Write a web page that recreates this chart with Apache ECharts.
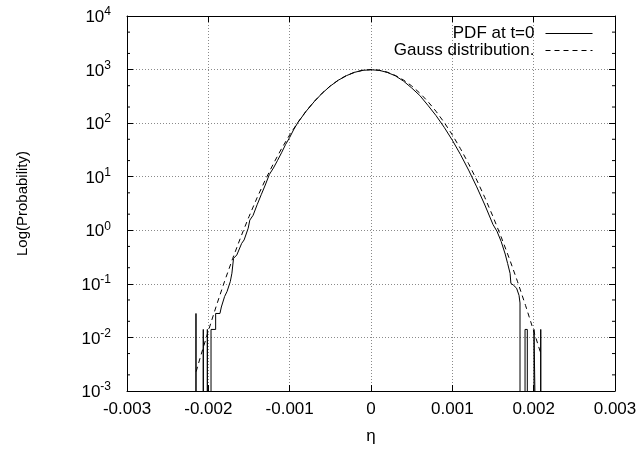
<!DOCTYPE html>
<html>
<head>
<meta charset="utf-8">
<script src="https://cdn.jsdelivr.net/npm/echarts@6/dist/echarts.min.js"></script>
<style>
  html, body { margin: 0; padding: 0; background: #fff; }
  #chart { width: 642px; height: 451px; }
</style>
</head>
<body>
<div id="chart"></div>
<script>
// ---- data ----
const xTickValues = [-0.003, -0.002, -0.001, 0, 0.001, 0.002, 0.003];
const xTickLabels = ['-0.003', '-0.002', '-0.001', '0', '0.001', '0.002', '0.003'];
const yMinorTickValues = [0.002, 0.005, 0.02, 0.05, 0.2, 0.5, 2, 5, 20, 50, 200, 500, 2000, 5000];
const EMPTY_BIN = 1e-4; // empty histogram bin: below the axis floor

const seriesNames = ['PDF at t=0', 'Gauss distribution.'];

const pdfEta = [
  -0.002152, -0.002152, -0.002152,
  -0.002062, -0.002062, -0.002062,
  -0.002012, -0.002012, -0.002012,
  -0.001967, -0.001967, -0.00191, -0.00191, -0.001857, -0.00184, -0.0018, -0.00177,
  -0.00173, -0.00171, -0.00169, -0.00165, -0.00163, -0.00159, -0.00156, -0.00151, -0.00149,
  -0.00145, -0.0014, -0.00135, -0.0013, -0.00125, -0.0012, -0.00115, -0.0011, -0.00105,
  -0.001, -0.00095, -0.0009, -0.0008, -0.0007, -0.0006, -0.0005, -0.0004, -0.0003,
  -0.0002, -0.0001, 0,
  0.0001, 0.0002, 0.0003, 0.0004, 0.0005, 0.0006, 0.0007, 0.0008, 0.0009, 0.001,
  0.0011, 0.0012, 0.0013, 0.0014, 0.0015, 0.00155, 0.0016, 0.00165, 0.00168, 0.00171,
  0.00172, 0.00175, 0.00179, 0.00182, 0.001832, 0.001832,
  0.001894, 0.001894, 0.001922, 0.001922,
  0.002004, 0.002004, 0.002025, 0.002025,
  0.002087, 0.002087, 0.002087
];
const pdfProb = [
  EMPTY_BIN, 0.028, EMPTY_BIN,
  EMPTY_BIN, 0.0141, EMPTY_BIN,
  EMPTY_BIN, 0.0141, EMPTY_BIN,
  EMPTY_BIN, 0.0141, 0.0141, 0.028, 0.028, 0.037, 0.058, 0.072,
  0.11, 0.158, 0.30, 0.346, 0.37, 0.57, 0.66, 1.09, 1.55,
  1.9, 3.0, 4.6, 7.0, 11, 14.5, 20, 28, 40,
  54, 76, 102, 165, 250, 362, 493, 635, 772,
  890, 968, 990,
  968, 885, 763, 609, 454, 328, 215, 138, 83.6, 48,
  26, 13.3, 6.46, 2.96, 1.28, 0.95, 0.62, 0.36, 0.24, 0.157,
  0.102, 0.095, 0.083, 0.061, 0.044, EMPTY_BIN,
  EMPTY_BIN, 0.0141, 0.0141, EMPTY_BIN,
  EMPTY_BIN, 0.0141, 0.0141, EMPTY_BIN,
  EMPTY_BIN, 0.0141, EMPTY_BIN
];

const gaussEta = [
  -0.00215, -0.0021, -0.002, -0.0019, -0.0018, -0.0017, -0.0016, -0.0015, -0.0014,
  -0.0013, -0.0012, -0.0011, -0.001, -0.0009, -0.0008, -0.0007, -0.0006, -0.0005,
  -0.0004, -0.0003, -0.0002, -0.0001, 0,
  0.0001, 0.0002, 0.0003, 0.0004, 0.0005, 0.0006, 0.0007, 0.0008, 0.0009, 0.001,
  0.0011, 0.0012, 0.0013, 0.0014, 0.0015, 0.0016, 0.0017, 0.0018, 0.0019, 0.002, 0.00209
];
const gaussProb = [
  0.0023, 0.0042, 0.0132, 0.0396, 0.112, 0.299, 0.755, 1.80, 4.07,
  8.69, 17.5, 33.4, 60.3, 103, 166, 253, 364, 496,
  638, 777, 894, 972, 1000,
  972, 894, 777, 638, 496, 364, 253, 166, 103, 60.3,
  33.4, 17.5, 8.69, 4.07, 1.80, 0.755, 0.299, 0.112, 0.0396, 0.0132, 0.0049
];

// ---- chart ----
const FONT = 'Liberation Sans, Arial, Helvetica, sans-serif';
const pairs = (xs, ys) => xs.map((x, i) => [x, ys[i]]);
const xLabel = v => {
  const i = xTickValues.findIndex(t => Math.abs(t - v) < 1e-9);
  return i >= 0 ? xTickLabels[i] : '';
};
const yLabel = v => '{b|10}{e|' + Math.round(Math.log10(v)) + '}';

const gridLine = { show: true, lineStyle: { color: '#8a8a8a', type: [1, 2], width: 1 } };

const legendBase = {
  orient: 'vertical', align: 'right', right: 44,
  itemWidth: 47, itemHeight: 14,
  itemStyle: { opacity: 0, color: 'transparent', borderWidth: 0 },
  lineStyle: { width: 1 },
  textStyle: { fontFamily: FONT, fontSize: 17, color: '#000', padding: [0, 6, 0, 0] }
};

const chart = echarts.init(document.getElementById('chart'), null, { renderer: 'canvas' });
chart.setOption({
  backgroundColor: '#fff',
  animation: false,
  grid: { left: 127, right: 27, top: 16, bottom: 60, containLabel: false },
  legend: [
    Object.assign({}, legendBase, { data: [seriesNames[0]], top: 20 }),
    Object.assign({}, legendBase, { data: [seriesNames[1]], top: 37 })
  ],
  xAxis: [
    {
      type: 'value', min: -0.003, max: 0.003, interval: 0.001, position: 'bottom',
      name: 'η', nameLocation: 'middle', nameGap: 37,
      nameTextStyle: { fontFamily: FONT, fontSize: 17, color: '#000' },
      axisLine: { show: true, onZero: false, lineStyle: { color: '#000', width: 1 } },
      axisTick: { show: true, inside: true, length: 6, lineStyle: { color: '#000' } },
      axisLabel: { formatter: xLabel, fontFamily: FONT, fontSize: 17, color: '#000', margin: 10 },
      splitLine: gridLine
    },
    {
      type: 'value', min: -0.003, max: 0.003, interval: 0.001, position: 'top',
      axisLine: { show: true, onZero: false, lineStyle: { color: '#000', width: 1 } },
      axisTick: { show: true, inside: true, length: 6, lineStyle: { color: '#000' } },
      axisLabel: { show: false }, splitLine: { show: false }
    }
  ],
  yAxis: [
    {
      type: 'log', logBase: 10, min: 0.001, max: 10000, position: 'left',
      name: 'Log(Probability)', nameLocation: 'middle', nameGap: 97, nameRotate: 90,
      nameTextStyle: { fontFamily: FONT, fontSize: 15, color: '#000' },
      axisLine: { show: true, onZero: false, lineStyle: { color: '#000', width: 1 } },
      axisTick: { show: true, inside: true, length: 6, lineStyle: { color: '#000' } },
      axisLabel: {
        formatter: yLabel, margin: 16, color: '#000',
        rich: {
          b: { fontFamily: FONT, fontSize: 17, color: '#000', verticalAlign: 'bottom', lineHeight: 20 },
          e: { fontFamily: FONT, fontSize: 12, color: '#000', verticalAlign: 'top', lineHeight: 12 }
        }
      },
      splitLine: gridLine,
      minorTick: { show: false }
    },
    {
      type: 'log', logBase: 10, min: 0.001, max: 10000, position: 'right',
      axisLine: { show: true, onZero: false, lineStyle: { color: '#000', width: 1 } },
      axisTick: { show: true, inside: true, length: 6, lineStyle: { color: '#000' } },
      axisLabel: { show: false }, splitLine: { show: false }
    }
  ],
  series: [
    {
      name: seriesNames[0], type: 'line', data: pairs(pdfEta, pdfProb),
      symbol: 'none', clip: true,
      lineStyle: { color: '#000', width: 1, type: 'solid' },
      itemStyle: { color: '#000' }, z: 3
    },
    {
      name: seriesNames[1], type: 'line', data: pairs(gaussEta, gaussProb),
      symbol: 'none', clip: true,
      lineStyle: { color: '#000', width: 1, type: [5, 4] },
      itemStyle: { color: '#000' }, z: 3
    },
    {
      name: 'minorTicks', type: 'custom', silent: true, clip: false, z: 4,
      data: yMinorTickValues.map(v => [-0.003, v]),
      renderItem: (params, api) => {
        const cs = params.coordSys;
        const y = api.coord([0, api.value(1)])[1];
        const st = { stroke: '#000', lineWidth: 1 };
        return {
          type: 'group',
          children: [
            { type: 'line', shape: { x1: cs.x, y1: y, x2: cs.x + 3, y2: y }, style: st },
            { type: 'line', shape: { x1: cs.x + cs.width - 3, y1: y, x2: cs.x + cs.width, y2: y }, style: st }
          ]
        };
      }
    }
  ]
});
</script>
</body>
</html>
